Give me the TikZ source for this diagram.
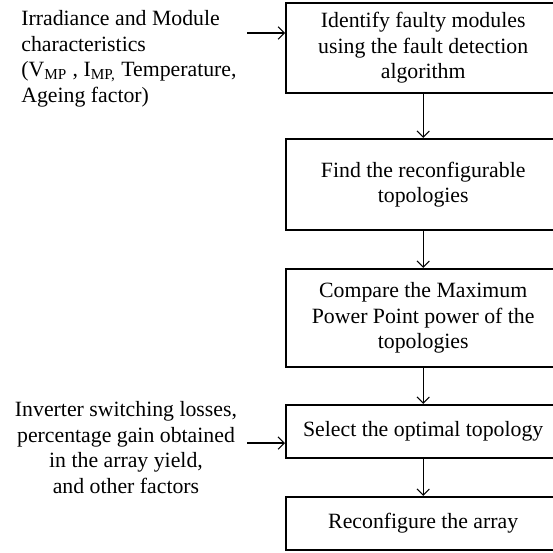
\documentclass[tikz,border=0pt]{standalone}
\usepackage{fontspec}
\setmainfont{Liberation Serif}
\usetikzlibrary{arrows, arrows.meta}

\begin{document}
\begin{tikzpicture}[x=0.02cm, y=-0.02cm,
    stepbox/.style={draw, line width=1.4pt, anchor=west, minimum width=5.48cm, align=center, inner sep=2pt, font=\fontsize{12.4}{14.6}\selectfont},
    note/.style={inner sep=0pt, font=\fontsize{12.4}{14.6}\selectfont},
    flow/.style={-{Straight Barb[length=3.5pt, width=7pt]}, line width=0.6pt}]
      \clip (0,0) rectangle (553,552);

      \node[stepbox, minimum height=1.8cm] (identify) at (285,48) {Identify faulty modules\\using the fault detection\\algorithm};
      \node[stepbox, minimum height=1.82cm] (find) at (285,184.5) {Find the reconfigurable\\topologies};
      \node[stepbox, minimum height=1.96cm] (compare) at (285,318) {Compare the Maximum\\Power Point power of the\\topologies};
      \node[stepbox, minimum height=1.06cm] (select) at (285,431.5) {Select the optimal topology};
      \node[stepbox, minimum height=1.06cm] (reconf) at (285,523.5) {Reconfigure the array};

      \node[note, anchor=north west, align=left] (inputs) at (21,10) {Irradiance and Module\\characteristics\\(V\textsubscript{MP} , I\textsubscript{MP,} Temperature,\\Ageing factor)};
      \node[note, anchor=north, align=center] (factors) at (126,401) {Inverter switching losses,\\percentage gain obtained\\in the array yield,\\and other factors};

      \coordinate (in1) at (247,33);
      \coordinate (in2) at (247,443);

      \draw[flow] (in1) -- (in1 -| identify.west);
      \draw[flow] (in2) -- (in2 -| select.west);
      \draw[flow] (identify) -- (find);
      \draw[flow] (find) -- (compare);
      \draw[flow] (compare) -- (select);
      \draw[flow] (select) -- (reconf);
    \end{tikzpicture}
\end{document}
